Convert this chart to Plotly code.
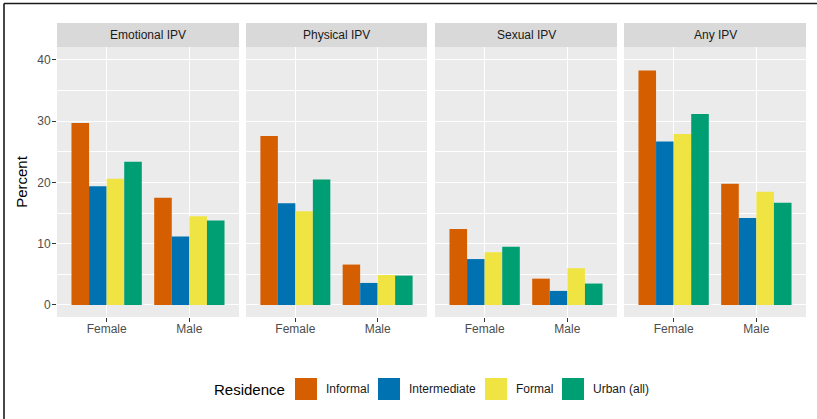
import plotly.graph_objects as go

# ---- data -------------------------------------------------------------
panels = ["Emotional IPV", "Physical IPV", "Sexual IPV", "Any IPV"]
sexes = ["Female", "Male"]
residence = ["Informal", "Intermediate", "Formal", "Urban (all)"]
colors = ["#D55E00", "#0072B2", "#F0E442", "#009E73"]

# percent[panel][residence] -> [Female, Male]
emotional = {"Informal": [29.7, 17.5], "Intermediate": [19.4, 11.2],
             "Formal": [20.6, 14.5], "Urban (all)": [23.4, 13.8]}
physical = {"Informal": [27.6, 6.6], "Intermediate": [16.6, 3.6],
            "Formal": [15.3, 4.9], "Urban (all)": [20.5, 4.8]}
sexual = {"Informal": [12.4, 4.3], "Intermediate": [7.5, 2.3],
          "Formal": [8.6, 6.0], "Urban (all)": [9.5, 3.5]}
any_ipv = {"Informal": [38.3, 19.8], "Intermediate": [26.7, 14.2],
           "Formal": [27.9, 18.5], "Urban (all)": [31.2, 16.7]}
panel_data = [emotional, physical, sexual, any_ipv]

y_ticks = [0, 10, 20, 30, 40]

# ---- page geometry (pixels) ----------------------------------------------
W, H = 817, 419
ML, MR, MT, MB = 57, 11, 47, 102
PW = W - ML - MR
PH = H - MT - MB
panel_px = [(57, 239), (246, 427), (435, 617), (624, 806)]


def px_x(x):
    return (x - ML) / PW


def px_y(y):
    return (H - MB - y) / PH


FONT = "Liberation Sans, Arial, sans-serif"
TICK_GREY = "#4D4D4D"

fig = go.Figure()

for i, (name, data) in enumerate(zip(panels, panel_data)):
    ax = "" if i == 0 else str(i + 1)
    for r, c in zip(residence, colors):
        fig.add_trace(go.Bar(
            x=sexes, y=data[r], name=r, marker_color=c,
            marker_line_width=0, showlegend=False,
            xaxis="x" + ax, yaxis="y" + ax, offsetgroup=r,
        ))

layout = dict(
    width=W, height=H,
    margin=dict(l=ML, r=MR, t=MT, b=MB, pad=0),
    paper_bgcolor="white", plot_bgcolor="#EBEBEB",
    barmode="group", bargap=0.15, bargroupgap=0,
    font=dict(family=FONT, color=TICK_GREY, size=12),
)

shapes = []
annotations = []

for i, (x0, x1) in enumerate(panel_px):
    ax = "" if i == 0 else str(i + 1)
    layout["xaxis" + ax] = dict(
        domain=[px_x(x0), px_x(x1)], anchor="y" + ax,
        type="category", range=[-0.6, 1.6],
        showgrid=True, gridcolor="white", gridwidth=1.1,
        ticks="outside", ticklen=4, tickwidth=1, tickcolor="#333333",
        ticklabelstandoff=-3,
        tickfont=dict(size=12, color=TICK_GREY, family=FONT),
        showline=False, zeroline=False, fixedrange=True,
    )
    yax = dict(
        domain=[0, 1], anchor="x" + ax, range=[-1.96, 42.12],
        tickvals=y_ticks, showgrid=True, gridcolor="white", gridwidth=1.1,
        minor=dict(dtick=5, tick0=0, showgrid=True, gridcolor="white",
                   gridwidth=0.5),
        zeroline=False, showline=False, fixedrange=True,
    )
    if i == 0:
        yax.update(ticks="outside", ticklen=4, tickwidth=1,
                   tickcolor="#333333", ticklabelstandoff=-1,
                   tickfont=dict(size=12, color=TICK_GREY, family=FONT),
                   title=dict(text="Percent", standoff=5,
                              font=dict(size=15, color="#000000",
                                        family=FONT)))
    else:
        yax.update(showticklabels=False, ticks="", matches="y")
    layout["yaxis" + ax] = yax

    # facet strip
    shapes.append(dict(type="rect", xref="paper", yref="paper",
                       x0=px_x(x0), x1=px_x(x1), y0=1, y1=px_y(23),
                       fillcolor="#D9D9D9", line_width=0, layer="below"))
    annotations.append(dict(text=panels[i], xref="paper", yref="paper",
                            x=(px_x(x0) + px_x(x1)) / 2,
                            y=(1 + px_y(23)) / 2, showarrow=False,
                            xanchor="center", yanchor="middle",
                            font=dict(size=12, color="#1A1A1A",
                                      family=FONT)))

# outer frame lines (top and left)
shapes.append(dict(type="line", xref="paper", yref="paper",
                   x0=px_x(4), x1=px_x(W), y0=px_y(3.5), y1=px_y(3.5),
                   line=dict(color="#1A1A1A", width=1.6)))
shapes.append(dict(type="line", xref="paper", yref="paper",
                   x0=px_x(4), x1=px_x(4), y0=px_y(3.5), y1=px_y(H),
                   line=dict(color="#1A1A1A", width=1.6)))

# legend
annotations.append(dict(text="Residence", xref="paper", yref="paper",
                        x=px_x(212), y=px_y(389), showarrow=False,
                        xanchor="left", yanchor="middle",
                        font=dict(size=15, color="#000000", family=FONT)))
key_x = [295, 378, 485, 562]
for r, c, kx in zip(residence, colors, key_x):
    shapes.append(dict(type="rect", xref="paper", yref="paper",
                       x0=px_x(kx), x1=px_x(kx + 22),
                       y0=px_y(400), y1=px_y(378),
                       fillcolor=c, line_width=0))
    annotations.append(dict(text=r, xref="paper", yref="paper",
                            x=px_x(kx + 29), y=px_y(389), showarrow=False,
                            xanchor="left", yanchor="middle",
                            font=dict(size=12, color="#1A1A1A",
                                      family=FONT)))

layout["shapes"] = shapes
layout["annotations"] = annotations
fig.update_layout(**layout)

fig.write_html("out.html")
